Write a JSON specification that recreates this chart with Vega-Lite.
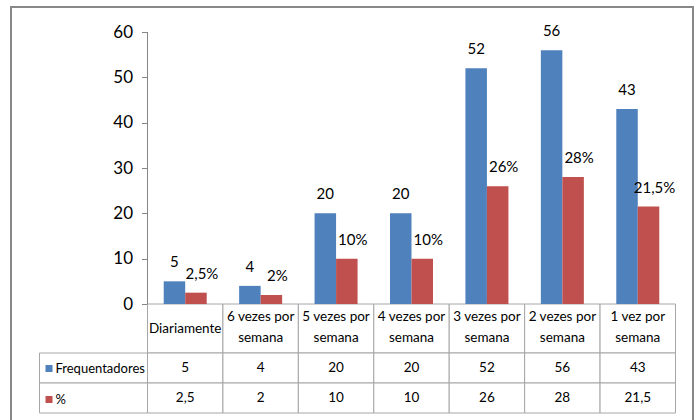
{
  "$schema": "https://vega.github.io/schema/vega-lite/v6.json",
  "width": 682,
  "height": 418,
  "autosize": {"type": "none"},
  "padding": {"left": 11, "top": 7, "right": 4, "bottom": 0},
  "background": "white",
  "config": {
    "view": {"stroke": "#888888", "strokeWidth": 2},
    "font": "Lato",
    "locale": {"number": {"decimal": ",", "thousands": ".", "grouping": [3], "currency": ["", "%"]}}
  },
  "datasets": {
    "freq": [
      {"category": "Diariamente", "series": "Frequentadores", "value": 5},
      {"category": "Diariamente", "series": "%", "value": 2.5},
      {"category": "6 vezes por\nsemana", "series": "Frequentadores", "value": 4},
      {"category": "6 vezes por\nsemana", "series": "%", "value": 2},
      {"category": "5 vezes por\nsemana", "series": "Frequentadores", "value": 20},
      {"category": "5 vezes por\nsemana", "series": "%", "value": 10},
      {"category": "4 vezes por\nsemana", "series": "Frequentadores", "value": 20},
      {"category": "4 vezes por\nsemana", "series": "%", "value": 10},
      {"category": "3 vezes por\nsemana", "series": "Frequentadores", "value": 52},
      {"category": "3 vezes por\nsemana", "series": "%", "value": 26},
      {"category": "2 vezes por\nsemana", "series": "Frequentadores", "value": 56},
      {"category": "2 vezes por\nsemana", "series": "%", "value": 28},
      {"category": "1 vez por\nsemana", "series": "Frequentadores", "value": 43},
      {"category": "1 vez por\nsemana", "series": "%", "value": 21.5}
    ],
    "rows": [{"series": "Frequentadores"}, {"series": "%"}]
  },
  "resolve": {
    "scale": {"x": "independent", "y": "independent", "xOffset": "independent"},
    "axis": {"x": "independent", "y": "independent"}
  },
  "layer": [
    {
      "data": {"name": "freq"},
      "transform": [{"filter": "datum.series === 'Frequentadores'"}],
      "mark": {"type": "rect", "fill": "white", "stroke": "#A6A6A6", "strokeWidth": 1},
      "encoding": {
        "x": {"field": "category", "type": "nominal", "axis": null, "sort": null,
              "scale": {"type": "band", "domain": ["Diariamente", "6 vezes por\nsemana", "5 vezes por\nsemana", "4 vezes por\nsemana", "3 vezes por\nsemana", "2 vezes por\nsemana", "1 vez por\nsemana"], "range": [136.5, 664.5], "paddingInner": 0, "paddingOuter": 0, "round": false}},
        "y": {"datum": "h", "type": "nominal", "axis": null,
              "scale": {"type": "band", "domain": ["h"], "range": [297, 346], "paddingInner": 0, "paddingOuter": 0, "round": false}}
      }
    },
    {
      "data": {"name": "freq"},
      "mark": {"type": "rect", "fill": "white", "stroke": "#A6A6A6", "strokeWidth": 1},
      "encoding": {
        "x": {"field": "category", "type": "nominal", "axis": null, "sort": null,
              "scale": {"type": "band", "domain": ["Diariamente", "6 vezes por\nsemana", "5 vezes por\nsemana", "4 vezes por\nsemana", "3 vezes por\nsemana", "2 vezes por\nsemana", "1 vez por\nsemana"], "range": [136.5, 664.5], "paddingInner": 0, "paddingOuter": 0, "round": false}},
        "y": {"field": "series", "type": "nominal", "axis": null,
              "scale": {"type": "band", "domain": ["Frequentadores", "%"], "range": [346, 406], "paddingInner": 0, "paddingOuter": 0, "round": false}}
      }
    },
    {
      "data": {"name": "rows"},
      "mark": {"type": "rect", "fill": "white", "stroke": "#A6A6A6", "strokeWidth": 1},
      "encoding": {
        "x": {"datum": "lbl", "type": "nominal", "axis": null,
              "scale": {"type": "band", "domain": ["lbl"], "range": [28.5, 136.5], "paddingInner": 0, "paddingOuter": 0, "round": false}},
        "y": {"field": "series", "type": "nominal", "axis": null,
              "scale": {"type": "band", "domain": ["Frequentadores", "%"], "range": [346, 406], "paddingInner": 0, "paddingOuter": 0, "round": false}}
      }
    },
    {
      "data": {"name": "freq"},
      "mark": {"type": "bar"},
      "encoding": {
        "x": {"field": "category", "type": "nominal", "axis": null, "sort": null,
              "scale": {"type": "band", "domain": ["Diariamente", "6 vezes por\nsemana", "5 vezes por\nsemana", "4 vezes por\nsemana", "3 vezes por\nsemana", "2 vezes por\nsemana", "1 vez por\nsemana"], "range": [136.5, 664.5], "paddingInner": 0, "paddingOuter": 0, "round": false}},
        "xOffset": {"field": "series", "type": "nominal",
              "scale": {"type": "band", "domain": ["Frequentadores", "%"], "paddingInner": 0, "paddingOuter": 0.754}},
        "y": {"field": "value", "type": "quantitative",
              "scale": {"domain": [-26.691, 65.515], "nice": false, "zero": false},
              "axis": {"orient": "left", "offset": -136.5, "values": [0, 10, 20, 30, 40, 50, 60], "format": "~f", "domain": false, "grid": false, "title": null,
                       "tickSize": 6, "tickColor": "#868686", "labelPadding": 9, "labelFont": "Lato", "labelFontSize": 17, "labelColor": "black"}},
        "y2": {"datum": 0},
        "color": {"field": "series", "type": "nominal",
              "scale": {"domain": ["Frequentadores", "%"], "range": ["#4F81BD", "#C0504D"]},
              "legend": {"orient": "none", "legendX": 31.5, "legendY": 355, "title": null, "symbolType": "square", "symbolSize": 49,
                         "symbolStrokeWidth": 0, "labelFont": "Lato", "labelFontSize": 13, "labelColor": "black", "rowPadding": 17, "labelOffset": 0, "padding": 0}}
      }
    },
    {
      "data": {"values": [{}]},
      "mark": {"type": "rule", "color": "#868686", "strokeWidth": 1},
      "encoding": {
        "x": {"datum": "Diariamente", "type": "nominal", "axis": null, "bandPosition": 0,
              "scale": {"type": "band", "domain": ["Diariamente", "6 vezes por\nsemana", "5 vezes por\nsemana", "4 vezes por\nsemana", "3 vezes por\nsemana", "2 vezes por\nsemana", "1 vez por\nsemana"], "range": [136.5, 664.5], "paddingInner": 0, "paddingOuter": 0, "round": false}},
        "y": {"datum": 0, "type": "quantitative", "axis": null,
              "scale": {"domain": [-26.691, 65.515], "nice": false, "zero": false}},
        "y2": {"datum": 60}
      }
    },
    {
      "data": {"name": "freq"},
      "transform": [{"filter": "datum.series === 'Frequentadores' && datum.category === 'Diariamente'"}],
      "mark": {"type": "text", "fontSize": 13.5, "font": "Lato", "color": "black", "baseline": "middle"},
      "encoding": {
        "x": {"field": "category", "type": "nominal", "axis": null, "sort": null,
              "scale": {"type": "band", "domain": ["Diariamente", "6 vezes por\nsemana", "5 vezes por\nsemana", "4 vezes por\nsemana", "3 vezes por\nsemana", "2 vezes por\nsemana", "1 vez por\nsemana"], "range": [136.5, 664.5], "paddingInner": 0, "paddingOuter": 0, "round": false}},
        "y": {"datum": "h", "type": "nominal", "axis": null,
              "scale": {"type": "band", "domain": ["h"], "range": [297, 346], "paddingInner": 0, "paddingOuter": 0, "round": false}},
        "text": {"field": "category", "type": "nominal"}
      }
    },
    {
      "data": {"name": "freq"},
      "transform": [{"filter": "datum.series === 'Frequentadores' && datum.category !== 'Diariamente'"}],
      "mark": {"type": "text", "lineBreak": "\n", "lineHeight": 21, "fontSize": 13.5, "font": "Lato", "color": "black", "baseline": "middle", "dy": -11.5},
      "encoding": {
        "x": {"field": "category", "type": "nominal", "axis": null, "sort": null,
              "scale": {"type": "band", "domain": ["Diariamente", "6 vezes por\nsemana", "5 vezes por\nsemana", "4 vezes por\nsemana", "3 vezes por\nsemana", "2 vezes por\nsemana", "1 vez por\nsemana"], "range": [136.5, 664.5], "paddingInner": 0, "paddingOuter": 0, "round": false}},
        "y": {"datum": "h", "type": "nominal", "axis": null,
              "scale": {"type": "band", "domain": ["h"], "range": [297, 346], "paddingInner": 0, "paddingOuter": 0, "round": false}},
        "text": {"field": "category", "type": "nominal"}
      }
    },
    {
      "data": {"name": "freq"},
      "mark": {"type": "text", "fontSize": 13.5, "font": "Lato", "color": "black", "baseline": "middle"},
      "encoding": {
        "x": {"field": "category", "type": "nominal", "axis": null, "sort": null,
              "scale": {"type": "band", "domain": ["Diariamente", "6 vezes por\nsemana", "5 vezes por\nsemana", "4 vezes por\nsemana", "3 vezes por\nsemana", "2 vezes por\nsemana", "1 vez por\nsemana"], "range": [136.5, 664.5], "paddingInner": 0, "paddingOuter": 0, "round": false}},
        "y": {"field": "series", "type": "nominal", "axis": null,
              "scale": {"type": "band", "domain": ["Frequentadores", "%"], "range": [346, 406], "paddingInner": 0, "paddingOuter": 0, "round": false}},
        "text": {"field": "value", "type": "quantitative", "format": "~f"}
      }
    },
    {
      "data": {"name": "freq"},
      "transform": [{"filter": "datum.series === 'Frequentadores'"}],
      "mark": {"type": "text", "fontSize": 15, "font": "Lato", "color": "black", "baseline": "alphabetic", "dy": -14},
      "encoding": {
        "x": {"field": "category", "type": "nominal", "axis": null, "sort": null,
              "scale": {"type": "band", "domain": ["Diariamente", "6 vezes por\nsemana", "5 vezes por\nsemana", "4 vezes por\nsemana", "3 vezes por\nsemana", "2 vezes por\nsemana", "1 vez por\nsemana"], "range": [136.5, 664.5], "paddingInner": 0, "paddingOuter": 0, "round": false}},
        "xOffset": {"field": "series", "type": "nominal",
              "scale": {"type": "band", "domain": ["Frequentadores", "%"], "paddingInner": 0, "paddingOuter": 0.754}},
        "y": {"field": "value", "type": "quantitative", "axis": null,
              "scale": {"domain": [-26.691, 65.515], "nice": false, "zero": false}},
        "text": {"field": "value", "type": "quantitative", "format": "~f"}
      }
    },
    {
      "data": {"name": "freq"},
      "transform": [{"filter": "datum.series === '%'"}],
      "mark": {"type": "text", "fontSize": 15, "font": "Lato", "color": "black", "baseline": "alphabetic", "dy": -14, "dx": 6},
      "encoding": {
        "x": {"field": "category", "type": "nominal", "axis": null, "sort": null,
              "scale": {"type": "band", "domain": ["Diariamente", "6 vezes por\nsemana", "5 vezes por\nsemana", "4 vezes por\nsemana", "3 vezes por\nsemana", "2 vezes por\nsemana", "1 vez por\nsemana"], "range": [136.5, 664.5], "paddingInner": 0, "paddingOuter": 0, "round": false}},
        "xOffset": {"field": "series", "type": "nominal",
              "scale": {"type": "band", "domain": ["Frequentadores", "%"], "paddingInner": 0, "paddingOuter": 0.754}},
        "y": {"field": "value", "type": "quantitative", "axis": null,
              "scale": {"domain": [-26.691, 65.515], "nice": false, "zero": false}},
        "text": {"field": "value", "type": "quantitative", "format": "$~f"}
      }
    }
  ]
}
